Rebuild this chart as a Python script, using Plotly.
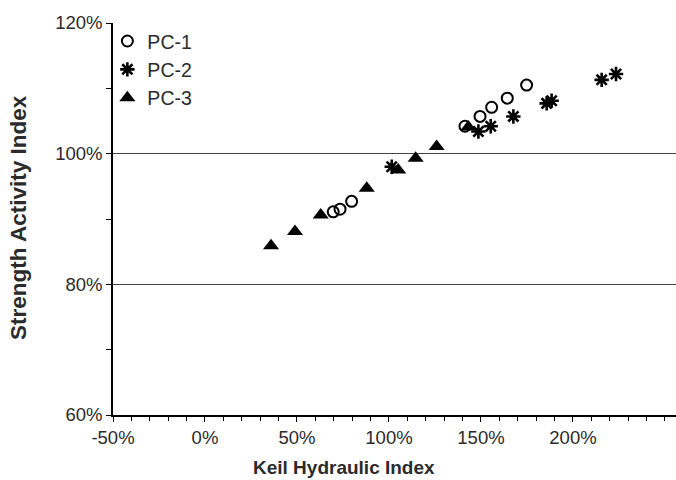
import plotly.graph_objects as go

# Keil Hydraulic Index (%) and Strength Activity Index (%)
pc1_x = [69.7, 73.4, 79.7, 141.3, 149.5, 155.8, 164.3, 174.8]
pc1_y = [91.1, 91.5, 92.7, 104.2, 105.7, 107.1, 108.5, 110.5]

pc2_x = [101.5, 148.6, 155.3, 167.6, 185.7, 188.4, 215.6, 223.4]
pc2_y = [98.0, 103.4, 104.2, 105.7, 107.7, 108.1, 111.3, 112.2]

pc3_x = [35.9, 48.9, 62.9, 87.9, 105.0, 114.5, 125.9, 143.1]
pc3_y = [85.9, 88.1, 90.6, 94.7, 97.5, 99.3, 101.1, 104.1]

series_names = ["PC-1", "PC-2", "PC-3"]

x_tickvals = [-50, 0, 50, 100, 150, 200]
x_ticktext = ["-50%", "0%", "50%", "100%", "150%", "200%"]
y_tickvals = [60, 80, 100, 120]
y_ticktext = ["60%", "80%", "100%", "120%"]

FONT = "Liberation Sans, Arial, sans-serif"
TXT = "#2b2b2b"

fig = go.Figure()
fig.add_trace(go.Scatter(
    x=pc1_x, y=pc1_y, mode="markers", name=series_names[0],
    marker=dict(symbol="circle-open", size=11, color="black",
                line=dict(width=2, color="black")),
))
fig.add_trace(go.Scatter(
    x=pc2_x, y=pc2_y, mode="markers", name=series_names[1],
    marker=dict(symbol="asterisk-open", size=12, color="black",
                line=dict(width=2.6, color="black")),
))
fig.add_trace(go.Scatter(
    x=pc3_x, y=pc3_y, mode="markers", name=series_names[2],
    marker=dict(symbol="triangle-up", size=14, color="black",
                line=dict(width=0)),
))

fig.update_layout(
    width=676, height=480,
    margin=dict(l=113, r=0, t=23, b=65),
    paper_bgcolor="white", plot_bgcolor="white",
    font=dict(family=FONT, size=18.5, color=TXT),
    showlegend=True,
    legend=dict(x=-0.01, y=1.003, xanchor="left", yanchor="top",
                bgcolor="rgba(0,0,0,0)", borderwidth=0,
                font=dict(size=19.5, color=TXT), itemwidth=30,
                tracegroupgap=0),
    xaxis=dict(
        range=[-50, 256], tickmode="array", tickvals=x_tickvals, ticktext=x_ticktext,
        showgrid=False, zeroline=False,
        showline=True, linecolor="black", linewidth=1.5,
        ticks="outside", ticklen=5, tickcolor="black",
        minor=dict(dtick=10, tick0=-50, ticks="outside", ticklen=4, tickcolor="black"),
        tickfont=dict(size=18.5, color=TXT),
    ),
    yaxis=dict(
        range=[60, 120], tickmode="array", tickvals=y_tickvals, ticktext=y_ticktext,
        showgrid=True, gridcolor="#444444", gridwidth=1.2,
        zeroline=False, showline=True, linecolor="black", linewidth=1.5,
        ticks="outside", ticklen=5, tickcolor="black",
        minor=dict(dtick=10, tick0=60, ticks="outside", ticklen=5, tickcolor="black", showgrid=False),
        tickfont=dict(size=18.5, color=TXT),
    ),
    annotations=[
        dict(text="<b>Keil Hydraulic Index</b>", xref="paper", yref="paper",
             x=(344 - 113) / 563, y=-(467 - 415) / 392, xanchor="center", yanchor="middle",
             showarrow=False, font=dict(size=19, color=TXT, family=FONT)),
        dict(text="<b>Strength Activity Index</b>", xref="paper", yref="paper",
             x=(18 - 113) / 563, y=(415 - 218) / 392, xanchor="center", yanchor="middle",
             textangle=-90, showarrow=False, font=dict(size=22.5, color=TXT, family=FONT)),
    ],
)

fig.write_html("out.html")
